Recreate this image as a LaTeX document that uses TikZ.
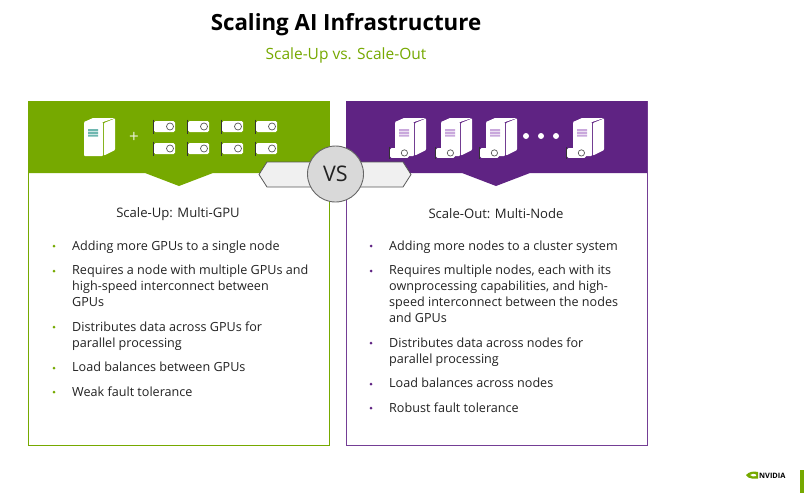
\documentclass[tikz,border=0pt]{standalone}
\usepackage{fontspec}
\setmainfont{Open Sans}
\usetikzlibrary{calc}
\definecolor{nvgreen}{HTML}{76A900}
\definecolor{nvpurple}{HTML}{5F2383}
\definecolor{lightpurple}{HTML}{C9A8DC}
\definecolor{teal1}{HTML}{6FB7B0}
\definecolor{txt}{HTML}{222222}
\tikzset{
  x=1pt,y=-1pt,
  titletext/.style={font=\fontsize{22.3}{26}\selectfont\bfseries,text=black,anchor=center,inner sep=0},
  subtext/.style={font=\fontsize{15.5}{18}\selectfont,text=nvgreen,anchor=center,inner sep=0},
  headtext/.style={font=\fontsize{13.1}{15}\selectfont,text=txt,anchor=center,inner sep=0},
  itemtext/.style={font=\fontsize{12.6}{16}\selectfont,text=txt,anchor=north west,inner sep=0,align=left},
  bull/.style={circle,inner sep=0,minimum size=3pt},
  pics/gpu/.style={code={
    \draw[black!80,line width=.6pt] (-.8,-1.5) -- (-.8,12.5);
    \fill[white,rounded corners=1.5pt] (0,0) rectangle (21,11);
    \draw[black!65,fill=white,line width=.7pt] (16,5.5) circle (3.5);
  }},
  pics/tower/.style={code={
    \fill[white,rounded corners=.8pt] (0,4) -- (19,4) -- (19,38) -- (0,38) -- cycle;
    \fill[white] (0,4) -- (9,0) -- (31,0) -- (19,4) -- cycle;
    \fill[white,rounded corners=.8pt] (20,5) -- (31,.5) -- (31,32) -- (20,37.5) -- cycle;
    \fill[#1] (4,11) rectangle (14,13) (4,13.8) rectangle (14,15.8) (4,16.6) rectangle (14,18.6);
  }},
  pics/tower/.default=teal1,
}
\begin{document}
\begin{tikzpicture}
\useasboundingbox (0,0) rectangle (810,498);
\fill[white] (0,0) rectangle (810,498);

\node[titletext] (title) at (346,25) {Scaling AI Infrastructure};
\node[subtext] (sub) at (346,55) {Scale-Up vs. Scale-Out};

% left panel
\draw[nvgreen,line width=1pt] (28,101) rectangle (329,445);
\fill[nvgreen] (28,101) -- (329,101) -- (329,173) -- (213,173) -- (179,186) -- (145,173) -- (28,173) -- cycle;
% right panel
\draw[nvpurple!80!lightpurple,line width=1pt] (346,101) rectangle (647,445);
\fill[nvpurple] (346,101) -- (647,101) -- (647,173) -- (530,173) -- (496,186) -- (462,173) -- (346,173) -- cycle;

% left icons
\pic at (84,118) {tower};
\node[font=\fontsize{17}{17}\selectfont,text=white!85!nvgreen,inner sep=0] (plus) at (134,137) {+};
\foreach \x in {154,188,222,256}{
  \pic at (\x,121) {gpu};
  \pic at (\x,143) {gpu};
}
% right icons
\foreach \x/\g in {395/390,441/436,486/480,573/567}{
  \pic at (\x,118) {tower=lightpurple};
  \pic[scale=.9] at (\g,148) {gpu};
}
\foreach \x in {526,541,556}{
  \fill[white] (\x,136) circle (3);
}

% VS badge
\draw[black!65,fill=black!6,line width=.8pt] (267,162) -- (403,162) -- (411,174.5) -- (403,187) -- (267,187) -- (259,174.5) -- cycle;
\node[circle,draw=black!60,fill=black!15,line width=.9pt,minimum size=56pt,inner sep=0,font=\fontsize{21.5}{22}\selectfont,text=txt] (vs) at (335.5,174) {VS};

% headings
\node[headtext] (hl) at (178,214) {Scale-Up: Multi-GPU};
\node[headtext] (hr) at (496,214) {Scale-Out: Multi-Node};

% left list
\node[itemtext] (l1) at (72,240.5) {Adding more GPUs to a single node};
\node[itemtext] (l2) at (72,265) {Requires a node with multiple GPUs and\\high-speed interconnect between\\GPUs};
\node[itemtext] (l3) at (72,321.5) {Distributes data across GPUs for\\parallel processing};
\node[itemtext] (l4) at (72,362) {Load balances between GPUs};
\node[itemtext] (l5) at (72,387) {Weak fault tolerance};
\foreach \y in {246,271,327,368,392}{\node[bull,fill=nvgreen] at (54,\y) {};}

% right list
\node[itemtext] (r1) at (389,240.5) {Adding more nodes to a cluster system};
\node[itemtext] (r2) at (389,265) {Requires multiple nodes, each with its\\ownprocessing capabilities, and high-\\speed interconnect between the nodes\\and GPUs};
\node[itemtext] (r3) at (389,337.5) {Distributes data across nodes for\\parallel processing};
\node[itemtext] (r4) at (389,378) {Load balances across nodes};
\node[itemtext] (r5) at (389,403) {Robust fault tolerance};
\foreach \y in {246,271,343,384,408}{\node[bull,fill=nvpurple] at (371,\y) {};}

% logo
\fill[nvgreen] (746,475) .. controls (749,471.5) and (754,471) .. (758,472) -- (758,478.5) -- (752,478.5) .. controls (749,478.5) and (747,477) .. (746,475) -- cycle;
\fill[white] (750,475) .. controls (752,473.5) and (754,473.5) .. (756,474.5) -- (756,476) .. controls (754,477) and (752,476.5) .. (750,475) -- cycle;
\node[font=\fontsize{7.4}{8}\selectfont\bfseries,text=black,inner sep=0,anchor=west] (logo) at (759,475.5) {NVIDIA};
\fill[nvgreen] (800,470) rectangle (803.5,493);
\end{tikzpicture}
\end{document}
